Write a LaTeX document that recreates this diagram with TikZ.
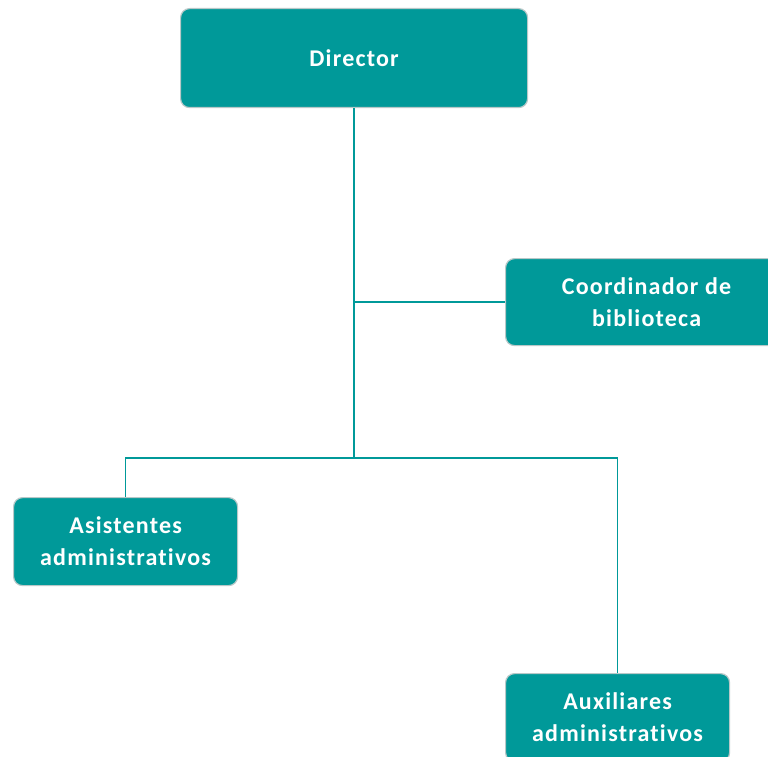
\documentclass[tikz,border=0pt]{standalone}
\usepackage{fontspec}
\setmainfont{Carlito}
\newfontfamily\boxfont[LetterSpace=5,Ligatures={NoCommon,NoRare,NoContextual}]{Carlito}
\definecolor{teal1}{HTML}{009999}
\definecolor{edgegray}{HTML}{B8C8C8}
\begin{document}
\begin{tikzpicture}[x=1pt,y=-1pt,
  box/.style={draw=edgegray, line width=1.2pt, fill=teal1, rounded corners=9pt,
    text=white, font=\boxfont\bfseries\fontsize{24}{32}\selectfont, align=center,
    inner sep=0pt, anchor=north west},
  link/.style={draw=teal1, line width=1.5pt}]
\useasboundingbox (0,0) rectangle (768,757);
\clip (0,0) rectangle (768,757);
\node[box, minimum width=347pt, minimum height=99pt] (dir) at (180,8) {Director};
\node[box, minimum width=282pt, minimum height=87pt] (coord) at (505,258) {Coordinador de\\biblioteca};
\node[box, minimum width=224pt, minimum height=88pt] (asis) at (13,497) {Asistentes\\administrativos};
\node[box, minimum width=224pt, minimum height=88pt] (aux) at (505,673) {Auxiliares\\administrativos};
\coordinate (j1) at (dir.south |- coord.west);
\coordinate (j2) at (dir.south |- 0,458);
\draw[link] (dir.south) -- (j2);
\draw[link] (j1) -- (coord.west);
\draw[link] (asis.north) |- (j2) -| (aux.north);
\end{tikzpicture}
\end{document}
